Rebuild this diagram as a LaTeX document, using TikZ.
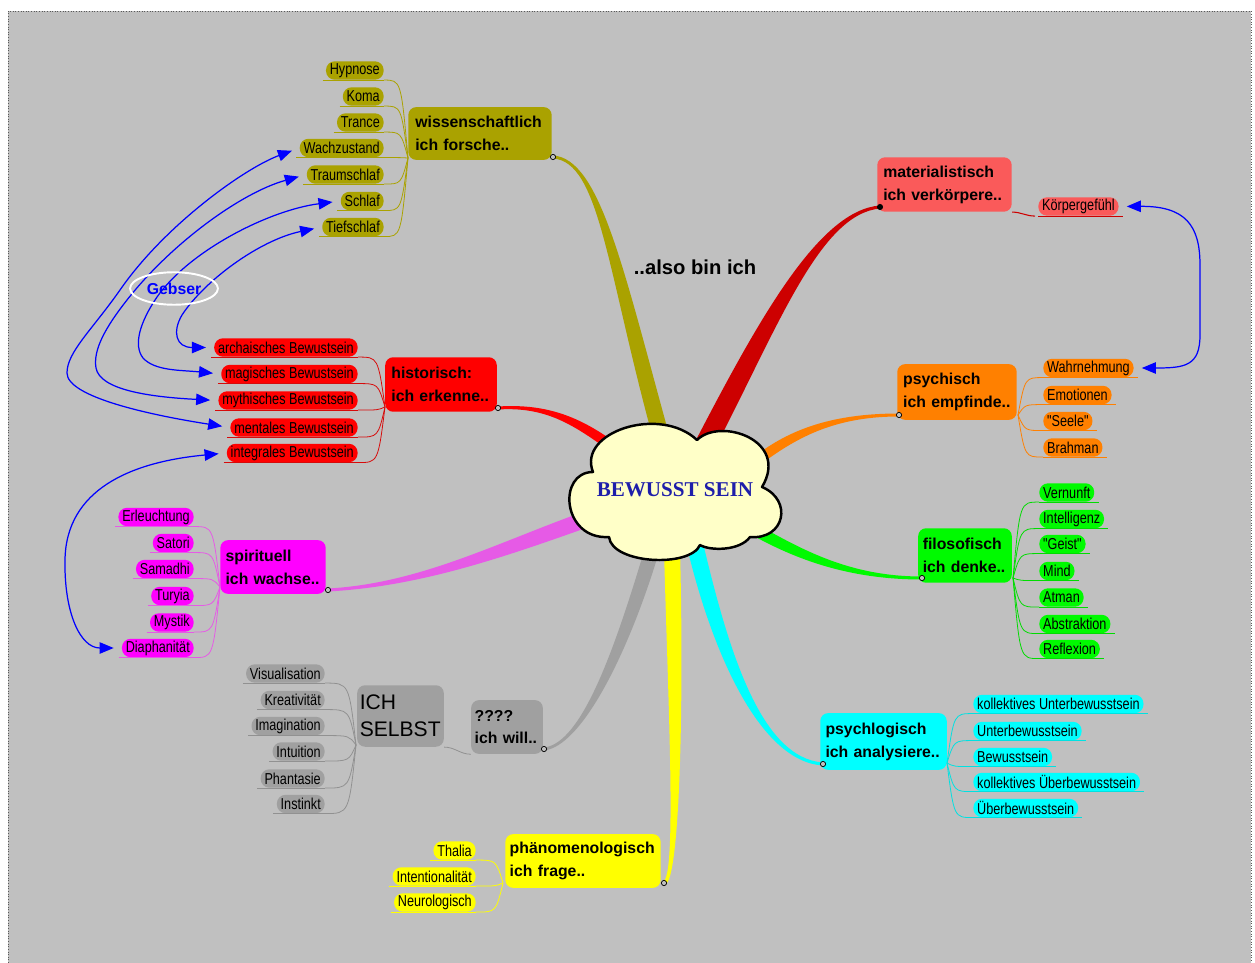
\documentclass[tikz,border=0pt]{standalone}
\usepackage{fontspec}
\setmainfont{Liberation Sans}
\newfontfamily\lblfont[FakeStretch=0.8]{Liberation Sans}
\newfontfamily\cloudfont{Liberation Serif}
\usetikzlibrary{arrows.meta,calc,shapes.geometric}
\definecolor{bggray}{RGB}{192,192,192}
\definecolor{olivec}{RGB}{170,162,0}
\definecolor{salmon}{RGB}{250,90,90}
\definecolor{matline}{RGB}{205,0,0}
\definecolor{redc}{RGB}{255,0,0}
\definecolor{redl}{RGB}{215,10,10}
\definecolor{orangec}{RGB}{255,128,0}
\definecolor{greenc}{RGB}{0,250,0}
\definecolor{greenl}{RGB}{0,220,0}
\definecolor{cyanc}{RGB}{0,255,255}
\definecolor{cyanl}{RGB}{0,225,225}
\definecolor{yellowc}{RGB}{255,255,0}
\definecolor{grayc}{RGB}{160,160,160}
\definecolor{grayl}{RGB}{145,145,145}
\definecolor{magc}{RGB}{255,0,255}
\definecolor{magl}{RGB}{230,90,230}
\definecolor{cloudfill}{RGB}{255,255,200}
\definecolor{cloudtext}{RGB}{30,30,170}
\definecolor{gebblue}{RGB}{0,0,255}
\tikzset{
  bx/.style={fill=#1, rounded corners=4.5pt, inner ysep=1pt, align=left,
    font=\fontsize{9}{13}\selectfont\bfseries, text=black},
  lbl/.style={fill=#1, rounded corners=5pt, inner xsep=2.2pt, inner ysep=0pt,
    minimum height=10.5pt, font=\lblfont\fontsize{9}{10}\selectfont, text=black},
  sub/.style={draw=#1, line width=0.45pt},
  ul/.style={draw=#1, line width=0.55pt},
  hubst/.style={circle, draw=black, line width=0.4pt, inner sep=0pt, minimum size=3pt, fill=#1},
  geb/.style={draw=gebblue, line width=0.7pt,
    {Triangle[length=8pt,width=6.5pt]}-{Triangle[length=8pt,width=6.5pt]},
    shorten <=4.5pt, shorten >=4.5pt},
}
\begin{document}
\begin{tikzpicture}[x=0.02cm,y=-0.02cm]
\useasboundingbox (0,0) rectangle (1255,963);
\fill[white] (0,0) rectangle (1255,963);
\fill[bggray] (8,11) rectangle (1251,963);
\draw[densely dotted, black!65, line width=0.5pt] (8,963) -- (8,11) -- (1251,11) -- (1251,963);

% ---------- tapered main branches ----------
\fill[olivec] (553,155.5) .. controls (600,158.5) and (623,268) .. (670,438) -- (654,442) .. controls (607,272) and (600,161.5) .. (553,158.5) -- cycle;
\fill[matline] (880,208.5) .. controls (820,214) and (779,325) .. (714,450) -- (696,440) .. controls (761,315) and (820,210) .. (880,205.5) -- cycle;
\fill[redc] (498,406.5) .. controls (545,403.5) and (578,416) .. (613,441) -- (607,449) .. controls (572,424) and (545,406.5) .. (498,409.5) -- cycle;
\fill[orangec] (899,416.5) .. controls (840,416.5) and (803,434) .. (768,459) -- (762,451) .. controls (797,426) and (840,413.5) .. (899,413.5) -- cycle;
\fill[greenc] (922,579.5) .. controls (850,579.5) and (797,560) .. (752,535) -- (758,525) .. controls (803,550) and (850,576.5) .. (922,576.5) -- cycle;
\fill[cyanc] (823,765.5) .. controls (760,762) and (712,652) .. (687,547) -- (703,543) .. controls (728,648) and (760,758) .. (823,762.5) -- cycle;
\fill[yellowc] (663,881.5) .. controls (677,878) and (668,700) .. (664,550) -- (680,550) .. controls (684,700) and (680,882) .. (665,884.5) -- cycle;
\fill[grayc] (544,747.5) .. controls (582,743.5) and (615,648) .. (645,548) -- (659,552) .. controls (629,652) and (582,746.5) .. (544,750.5) -- cycle;
\fill[magl] (328,588.5) .. controls (420,583.5) and (497,542.5) .. (587,510.5) -- (593,525.5) .. controls (503,557.5) and (420,586.5) .. (328,591.5) -- cycle;

% ---------- central cloud ----------
\draw[fill=cloudfill, line width=1.4pt, line join=round]
  (593,472) .. controls (577,432) and (660,405) .. (697,440)
  .. controls (720,417) and (790,440) .. (762,487)
  .. controls (793,500) and (785,540) .. (750,537)
  .. controls (740,551) and (710,551) .. (700,545)
  .. controls (690,568) and (612,564) .. (609,537)
  .. controls (562,540) and (557,472) .. (593,472) -- cycle;
\node[font=\cloudfont\bfseries\fontsize{12}{14}\selectfont, text=cloudtext] (core) at (675,490) {BEWUSST SEIN};
\node[font=\bfseries\fontsize{11.5}{13}\selectfont] (also) at (695,267) {..also bin ich};

% ---------- branch boxes ----------
\node[bx=olivec, inner xsep=4pt, text width=73.6pt, minimum height=30pt] (wiss) at (480,133.5) {\mbox{wissenschaftlich}\\\mbox{ich forsche..}};
\node[bx=redc, inner xsep=3.5pt, text width=56.5pt, minimum height=31pt] (hist) at (441,384.5) {\mbox{historisch:}\\\mbox{ich erkenne..}};
\node[bx=magc, inner xsep=3pt, text width=54pt, minimum height=30.6pt] (spir) at (273,567) {\mbox{spirituell}\\\mbox{ich wachse..}};
\node[bx=grayc, inner xsep=1.5pt, text width=46.3pt, minimum height=35pt, font=\fontsize{12}{15.3}\selectfont] (ichs) at (400.5,716) {ICH\\SELBST};
\node[bx=grayc, inner xsep=2pt, text width=36.8pt, minimum height=30.6pt] (will) at (507,727) {\mbox{????}\\\mbox{ich will..}};
\node[bx=yellowc, inner xsep=2.5pt, text width=83.4pt, minimum height=30.6pt] (phae) at (583,861) {\mbox{phänomenologisch}\\\mbox{ich frage..}};
\node[bx=salmon, inner xsep=3.4pt, text width=69.7pt, minimum height=31pt] (mat) at (944.5,184.5) {\mbox{materialistisch}\\\mbox{ich verkörpere..}};
\node[bx=orangec, inner xsep=3.4pt, text width=61.2pt, minimum height=31.7pt] (psy) at (957,392) {\mbox{psychisch}\\\mbox{ich empfinde..}};
\node[bx=greenc, inner xsep=2.6pt, text width=48.1pt, minimum height=31pt] (filo) at (965,555.5) {\mbox{filosofisch}\\\mbox{ich denke..}};
\node[bx=cyanc, inner xsep=3pt, text width=66pt, minimum height=32.3pt] (plog) at (883.5,741.5) {\mbox{psychlogisch}\\\mbox{ich analysiere..}};

% hub circles
\node[hubst=bggray] (hw) at (553,157) {};
\node[hubst=bggray] (hh) at (498,408) {};
\node[hubst=bggray] (hs) at (328,590) {};
\node[hubst=bggray] (hq) at (544,749) {};
\node[hubst=bggray] (hp) at (664,883) {};
\node[hubst=black] (hm) at (880,207) {};
\node[hubst=bggray] (hy) at (899,415) {};
\node[hubst=bggray] (hf) at (922,578) {};
\node[hubst=bggray] (hl) at (823,764) {};

% convergence points
\coordinate (cw) at (408,158);
\coordinate (ch) at (385,407);
\coordinate (cs) at (220,587);
\coordinate (cg) at (356,745);
\coordinate (cy) at (503,883);
\coordinate (co) at (1018,415);
\coordinate (cf) at (1013,578);
\coordinate (cc) at (947,763);

% ---------- sub items ----------
\node[lbl=olivec, anchor=east] (hyp) at (384,70.5) {Hypnose};
\node[lbl=olivec, anchor=east] (koma) at (384,96.5) {Koma};
\node[lbl=olivec, anchor=east] (tran) at (384,122.5) {Trance};
\node[lbl=olivec, anchor=east] (wach) at (384,148) {Wachzustand};
\node[lbl=olivec, anchor=east] (trau) at (384,174.5) {Traumschlaf};
\node[lbl=olivec, anchor=east] (schl) at (384,201) {Schlaf};
\node[lbl=olivec, anchor=east] (tief) at (384,227) {Tiefschlaf};

\node[lbl=redc, anchor=east] (arch) at (358,347.5) {archaisches  Bewustsein};
\node[lbl=redc, anchor=east] (magi) at (358,374) {magisches  Bewustsein};
\node[lbl=redc, anchor=east] (myth) at (358,400.5) {mythisches  Bewustsein};
\node[lbl=redc, anchor=east] (ment) at (358,427.5) {mentales  Bewustsein};
\node[lbl=redc, anchor=east] (inte) at (358,453) {integrales  Bewustsein};

\node[lbl=magc, anchor=east] (erl) at (194,517) {Erleuchtung};
\node[lbl=magc, anchor=east] (sat) at (194,543) {Satori};
\node[lbl=magc, anchor=east] (sam) at (194,569) {Samadhi};
\node[lbl=magc, anchor=east] (tur) at (194,596) {Turyia};
\node[lbl=magc, anchor=east] (mys) at (194,622.5) {Mystik};
\node[lbl=magc, anchor=east] (dia) at (194,648) {Diaphanität};

\node[lbl=grayc, anchor=east] (vis) at (325,673.5) {Visualisation};
\node[lbl=grayc, anchor=east] (kre) at (325,700) {Kreativität};
\node[lbl=grayc, anchor=east] (ima) at (325,726) {Imagination};
\node[lbl=grayc, anchor=east] (intu) at (325,751.5) {Intuition};
\node[lbl=grayc, anchor=east] (pha) at (325,778.5) {Phantasie};
\node[lbl=grayc, anchor=east] (ins) at (325,804) {Instinkt};

\node[lbl=yellowc, anchor=east] (tha) at (476,850.5) {Thalia};
\node[lbl=yellowc, anchor=east] (ito) at (476,876.5) {Intentionalität};
\node[lbl=yellowc, anchor=east] (neu) at (476,902.5) {Neurologisch};

\node[lbl=salmon, anchor=west] (koer) at (1038,206.5) {Körpergefühl};

\node[lbl=orangec, anchor=west] (wahr) at (1043,368) {Wahrnehmung};
\node[lbl=orangec, anchor=west] (emo) at (1043,395) {Emotionen};
\node[lbl=orangec, anchor=west] (see) at (1043,421) {"Seele"};
\node[lbl=orangec, anchor=west] (bra) at (1043,447.5) {Brahman};

\node[lbl=greenc, anchor=west] (ver) at (1039,492.5) {Vernunft};
\node[lbl=greenc, anchor=west] (itl) at (1039,519) {Intelligenz};
\node[lbl=greenc, anchor=west] (gei) at (1039,544) {"Geist"};
\node[lbl=greenc, anchor=west] (mind) at (1039,571) {Mind};
\node[lbl=greenc, anchor=west] (atm) at (1039,597.5) {Atman};
\node[lbl=greenc, anchor=west] (abst) at (1039,624) {Abstraktion};
\node[lbl=greenc, anchor=west] (refl) at (1039,649) {Reflexion};

\node[lbl=cyanc, anchor=west] (kub) at (973,704) {kollektives  Unterbewusstsein};
\node[lbl=cyanc, anchor=west] (ub) at (973,731) {Unterbewusstsein};
\node[lbl=cyanc, anchor=west] (bw) at (973,757) {Bewusstsein};
\node[lbl=cyanc, anchor=west] (kue) at (973,782) {kollektives  Überbewusstsein};
\node[lbl=cyanc, anchor=west] (ue) at (973,808) {Überbewusstsein};

% ---------- sub connectors (left side) ----------
\foreach \n in {hyp,koma,tran,wach,trau,schl,tief}{
  \draw[ul=olivec] ($(\n.south west)+(-3,0)$) -- (\n.south east);
  \draw[sub=olivec] (\n.south east) .. controls ($(\n.south east -| cw)+(-7,0)$) .. (cw);}
\foreach \n in {arch,magi,myth,ment,inte}{
  \draw[ul=redl] ($(\n.south west)+(-3,0)$) -- (\n.south east);
  \draw[sub=redl] (\n.south east) .. controls ($(\n.south east -| ch)+(-7,0)$) .. (ch);}
\foreach \n in {erl,sat,sam,tur,mys,dia}{
  \draw[ul=magl] ($(\n.south west)+(-3,0)$) -- (\n.south east);
  \draw[sub=magl] (\n.south east) .. controls ($(\n.south east -| cs)+(-7,0)$) .. (cs);}
\foreach \n in {vis,kre,ima,intu,pha,ins}{
  \draw[ul=grayl] ($(\n.south west)+(-3,0)$) -- (\n.south east);
  \draw[sub=grayl] (\n.south east) .. controls ($(\n.south east -| cg)+(-7,0)$) .. (cg);}
\foreach \n in {tha,ito,neu}{
  \draw[ul=yellowc] ($(\n.south west)+(-3,0)$) -- (\n.south east);
  \draw[sub=yellowc] (\n.south east) .. controls ($(\n.south east -| cy)+(-7,0)$) .. (cy);}
\draw[sub=grayl] (ichs.south east) to[out=0,in=180] (will.south west);

% ---------- sub connectors (right side) ----------
\draw[ul=matline] (koer.south west) -- ($(koer.south east)+(4,0)$);
\draw[sub=matline, line width=0.6pt] (mat.south east) to[out=0,in=180] ($(koer.south west)+(-3,0)$);
\foreach \n in {wahr,emo,see,bra}{
  \draw[ul=orangec] (\n.south west) -- ($(\n.south east)+(4,0)$);
  \draw[sub=orangec] (co) .. controls ($(co |- \n.south west)+(7,0)$) .. (\n.south west);}
\foreach \n in {ver,itl,gei,mind,atm,abst,refl}{
  \draw[ul=greenl] (\n.south west) -- ($(\n.south east)+(4,0)$);
  \draw[sub=greenl] (cf) .. controls ($(cf |- \n.south west)+(7,0)$) .. (\n.south west);}
\foreach \n in {kub,ub,bw,kue,ue}{
  \draw[ul=cyanl] (\n.south west) -- ($(\n.south east)+(4,0)$);
  \draw[sub=cyanl] (cc) .. controls ($(cc |- \n.south west)+(7,0)$) .. (\n.south west);}

% ---------- Gebser relations ----------
\draw[geb] (wach.west) .. controls (245,168) and (165,225) .. (120,290) .. controls (92,330) and (67,352) .. (67,373) .. controls (67,397) and (150,415) .. (ment.west);
\draw[geb] (trau.west) .. controls (240,193) and (170,245) .. (127,300) .. controls (105,328) and (93,350) .. (96,368) .. controls (100,390) and (150,397) .. (myth.west);
\draw[geb] (schl.west) .. controls (270,210) and (190,250) .. (157,297) .. controls (140,322) and (133,345) .. (143,358) .. controls (155,371) and (180,370) .. (magi.west);
\draw[geb] (tief.west) .. controls (260,240) and (205,280) .. (182,315) .. controls (172,332) and (176,347.5) .. (arch.west);
\draw[geb] (inte.west) .. controls (130,462) and (66,490) .. (65,560) .. controls (64,612) and (80,648) .. (dia.west);
\draw[geb] (koer.east) .. controls (1185,206) and (1200,225) .. (1200,265) -- (1200,335) .. controls (1200,366) and (1185,368) .. (wahr.east);
\node[ellipse, draw=white, line width=1.1pt, minimum width=50pt, minimum height=18.5pt, inner sep=0pt,
  text=gebblue, font=\bfseries\fontsize{9}{10}\selectfont] (gebser) at (174,288.5) {Gebser};
\end{tikzpicture}
\end{document}
